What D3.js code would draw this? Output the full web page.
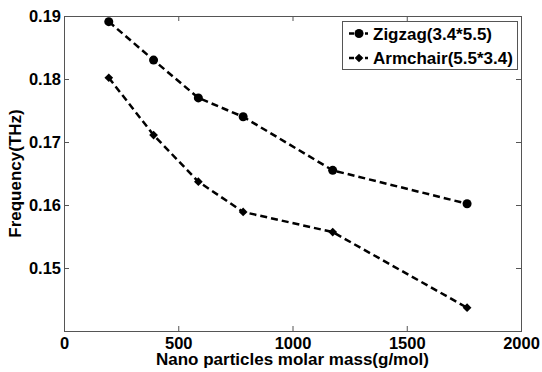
<!DOCTYPE html>
<html>
<head>
<meta charset="utf-8">
<script src="https://cdn.jsdelivr.net/npm/d3@7"></script>
<style>
  body { margin: 0; background: #fff; }
  text { font-family: "Liberation Sans", Arial, sans-serif; font-weight: bold; fill: #000; }
</style>
</head>
<body>
<div id="chart"></div>
<script>
// data
var massValues = [196, 392, 588, 784, 1176, 1764];
var zigzagFreq = [0.1891, 0.1830, 0.1770, 0.1740, 0.1655, 0.1602];
var armchairFreq = [0.1802, 0.1711, 0.1637, 0.1589, 0.1557, 0.1437];
var seriesNames = ["Zigzag(3.4*5.5)", "Armchair(5.5*3.4)"];
var xTicks = [0, 500, 1000, 1500, 2000];
var yTicks = [0.15, 0.16, 0.17, 0.18, 0.19];

var width = 542, height = 372;
var margins = {top: 16, right: 21, bottom: 41, left: 64};

var svg = d3.select("#chart").append("svg")
    .attr("width", width)
    .attr("height", height);

var x = d3.scaleLinear().domain([0, 2000]).range([margins.left, width - margins.right]);
var y = d3.scaleLinear().domain([0.14, 0.19]).range([height - margins.bottom, margins.top]);

/* Axes - MATLAB style box with inward ticks */
var axisColor = "#555";
function styleAxis(g){
    g.selectAll(".domain").remove();
    g.selectAll(".tick line").attr("stroke", axisColor);
    g.selectAll(".tick text").style("font-size", "16.5px");
}
svg.append("g")
    .attr("transform", "translate(0," + y.range()[0] + ")")
    .call(d3.axisBottom(x).tickValues(xTicks).tickSize(-5).tickPadding(6).tickFormat(d3.format("d")))
    .call(styleAxis);
svg.append("g")
    .attr("transform", "translate(0," + y.range()[1] + ")")
    .call(d3.axisTop(x).tickValues(xTicks).tickSize(-5).tickFormat(""))
    .call(styleAxis);
svg.append("g")
    .attr("transform", "translate(" + x.range()[0] + ",0)")
    .call(d3.axisLeft(y).tickValues(yTicks).tickSize(-5).tickPadding(3).tickFormat(d3.format(".2f")))
    .call(styleAxis);
svg.append("g")
    .attr("transform", "translate(" + x.range()[1] + ",0)")
    .call(d3.axisRight(y).tickValues(yTicks).tickSize(-5).tickFormat(""))
    .call(styleAxis);

svg.append("rect")
    .attr("x", x.range()[0] + 0.5)
    .attr("y", y.range()[1] + 0.5)
    .attr("width", x.range()[1] - x.range()[0])
    .attr("height", y.range()[0] - y.range()[1])
    .attr("fill", "none")
    .attr("stroke", axisColor)
    .attr("stroke-width", 1);

/* Axis titles */
svg.append("text")
    .attr("x", (x.range()[0] + x.range()[1]) / 2)
    .attr("y", 365)
    .attr("text-anchor", "middle")
    .style("font-size", "17px")
    .text("Nano particles molar mass(g/mol)");
svg.append("text")
    .attr("transform", "translate(21," + (y.range()[0] + y.range()[1]) / 2 + ") rotate(-90)")
    .attr("text-anchor", "middle")
    .style("font-size", "17px")
    .text("Frequency(THz)");

/* Lines and markers */
var series = [
    {name: seriesNames[0], values: zigzagFreq, symbol: d3.symbolCircle, size: 64, rot: 0},
    {name: seriesNames[1], values: armchairFreq, symbol: d3.symbolSquare, size: 38, rot: 45}
];

var line = d3.line()
    .x(function(d){ return x(d[0]); })
    .y(function(d){ return y(d[1]); });

series.forEach(function(s){
    var pts = massValues.map(function(m, i){ return [m, s.values[i]]; });
    svg.append("path")
        .attr("d", line(pts))
        .attr("fill", "none")
        .attr("stroke", "#000")
        .attr("stroke-width", 2.5)
        .attr("stroke-dasharray", "7,4");
    svg.selectAll(null)
        .data(pts)
        .enter()
        .append("path")
            .attr("d", d3.symbol().type(s.symbol).size(s.size))
            .attr("transform", function(d){ return "translate(" + x(d[0]) + "," + y(d[1]) + ") rotate(" + s.rot + ")"; })
            .attr("fill", "#000");
});

/* Legend */
var legend = svg.append("g").attr("transform", "translate(342,21)");
legend.append("rect")
    .attr("x", 0.5).attr("y", 0.5)
    .attr("width", 175).attr("height", 48)
    .attr("fill", "#fff")
    .attr("stroke", axisColor);
series.forEach(function(s, i){
    var cy = 12.5 + i * 24.5;
    legend.append("line")
        .attr("x1", 7).attr("x2", 26)
        .attr("y1", cy).attr("y2", cy)
        .attr("stroke", "#000")
        .attr("stroke-width", 2.5)
        .attr("stroke-dasharray", "5,3");
    legend.append("path")
        .attr("d", d3.symbol().type(s.symbol).size(s.size))
        .attr("transform", "translate(17," + cy + ") rotate(" + s.rot + ")")
        .attr("fill", "#000");
    legend.append("text")
        .attr("x", 31)
        .attr("y", cy + 6)
        .style("font-size", "17px")
        .text(s.name);
});
</script>
</body>
</html>
